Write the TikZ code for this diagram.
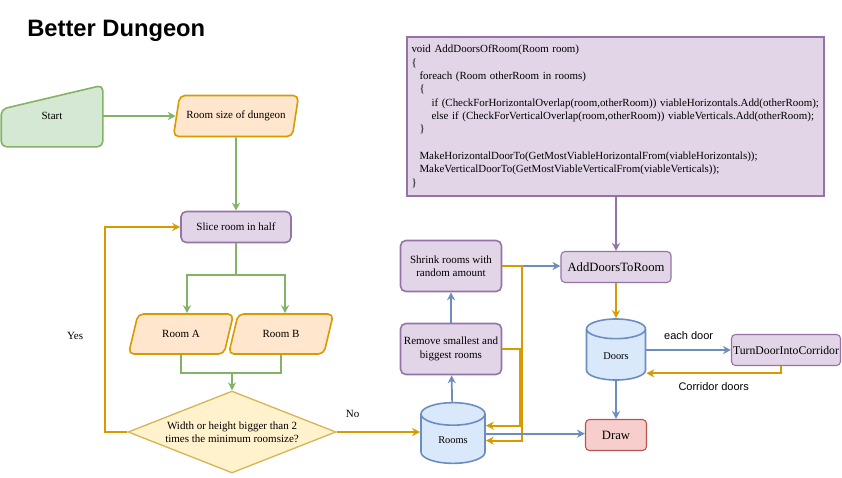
\documentclass[tikz,border=0pt]{standalone}
\usepackage{fontspec}
\setmainfont{Liberation Serif}
\setsansfont{Liberation Sans}
\usetikzlibrary{arrows.meta,positioning,calc,shapes.geometric,backgrounds}
\definecolor{grnfill}{HTML}{D5E8D4}\definecolor{grnline}{HTML}{82B366}
\definecolor{orgfill}{HTML}{FFE6CC}\definecolor{orgline}{HTML}{D79B00}
\definecolor{purfill}{HTML}{E1D5E7}\definecolor{purline}{HTML}{9673A6}
\definecolor{yelfill}{HTML}{FFF2CC}\definecolor{yelline}{HTML}{D6B656}
\definecolor{blufill}{HTML}{DAE8FC}\definecolor{bluline}{HTML}{6C8EBF}
\definecolor{redfill}{HTML}{F8CECC}\definecolor{redline}{HTML}{B85450}
\tikzset{base/.style={font=\fontsize{8.25}{10}\selectfont,align=center,inner sep=1pt,line width=1.2pt},
proc/.style={base,draw=purline,fill=purfill,rounded corners=4pt},
thinproc/.style={proc,line width=0.8pt,rounded corners=3pt,font=\fontsize{9.5}{11}\selectfont},
io/.style={base,trapezium,trapezium left angle=66,trapezium right angle=114,trapezium stretches=true,draw=orgline,fill=orgfill,rounded corners=4pt},
store/.style={base,cylinder,shape border rotate=90,aspect=0.7,anchor=shape center,draw=bluline,fill=blufill,font=\fontsize{7.8}{9}\selectfont},
decide/.style={base,diamond,aspect=2.5,inner sep=0pt,draw=yelline,fill=yelfill,line width=1pt},
manual/.style={draw=grnline,fill=grnfill,line width=1.2pt,rounded corners=4pt},
gflux/.style={-{Stealth[length=6pt,width=6pt]},draw=grnline,line width=1.3pt},
oflux/.style={-{Stealth[length=6pt,width=6pt]},draw=orgline,line width=1.3pt},
bflux/.style={-{Stealth[length=6pt,width=6pt]},draw=bluline,line width=1.3pt},
pflux/.style={-{Stealth[length=6pt,width=6pt]},draw=purline,line width=1.3pt},
note/.style={font=\fontsize{8.25}{10}\selectfont,inner sep=1pt},
snote/.style={font=\sffamily\fontsize{8.25}{10}\selectfont,inner sep=1pt}}
\begin{document}
\begin{tikzpicture}[x=0.75pt,y=-0.75pt]
\useasboundingbox (0,0) rectangle (842,478);
\node[font=\sffamily\bfseries\fontsize{17.8}{21}\selectfont,anchor=west,inner sep=0pt] (title) at (27,31) {Better Dungeon};
\node[base,minimum width=75pt,minimum height=45pt] (start) at (52,116) {Start};
\begin{scope}[on background layer]
\draw[manual] (start.south west) -- (start.south east) -- (start.north east) -- ($(start.north west)+(0,24)$) -- cycle;
\end{scope}
\node[io,minimum width=94.5pt,minimum height=30.75pt] (roomsize) at (236,116) {Room size of dungeon};
\node[proc,minimum width=82.5pt,minimum height=23.25pt] (slice) at (236,227) {Slice room in half};
\node[io,minimum width=78.75pt,minimum height=30pt] (rooma) at (181,334) {Room A};
\node[io,minimum width=78.75pt,minimum height=30pt] (roomb) at (281,334) {Room B};
\node[decide,minimum width=156pt,minimum height=61.5pt] (cond) at (232,432) {Width or height bigger than 2\\times the minimum roomsize?};
\node[store,minimum width=48pt,minimum height=45.5pt] (rooms) at (453,433) {Rooms};
\node[proc,minimum width=75.75pt,minimum height=38.25pt] (remove) at (451,349) {Remove smallest and\\biggest rooms};
\node[proc,minimum width=75.75pt,minimum height=38.25pt] (shrink) at (451,266) {Shrink rooms with\\random amount};
\node[thinproc,minimum width=82.5pt,minimum height=23.25pt] (adddoors) at (616,267) {AddDoorsToRoom};
\node[proc,line width=0.8pt,rounded corners=0pt,minimum width=312.75pt,minimum height=119.25pt,align=left,text width=306pt,font=\fontsize{8.2}{10}\selectfont] (code) at (615.5,116.5) {void AddDoorsOfRoom(Room room)\\
\{\\
\hspace*{6pt}foreach (Room otherRoom in rooms)\\
\hspace*{6pt}\{\\
\hspace*{15pt}if (CheckForHorizontalOverlap(room,otherRoom)) viableHorizontals.Add(otherRoom);\\
\hspace*{15pt}else if (CheckForVerticalOverlap(room,otherRoom)) viableVerticals.Add(otherRoom);\\
\hspace*{6pt}\}\\
\mbox{}\\
\hspace*{6pt}MakeHorizontalDoorTo(GetMostViableHorizontalFrom(viableHorizontals));\\
\hspace*{6pt}MakeVerticalDoorTo(GetMostViableVerticalFrom(viableVerticals));\\
\}};
\node[store,minimum width=44.25pt,minimum height=45.75pt] (doors) at (616,349.5) {Doors};
\node[thinproc,font=\fontsize{8.8}{10}\selectfont,minimum width=81.75pt,minimum height=23.25pt] (turn) at (786,350) {TurnDoorIntoCorridor};
\node[thinproc,draw=redline,fill=redfill,minimum width=45.75pt,minimum height=23.25pt] (drawstep) at (616,435) {Draw};
\draw[gflux] (start) -- (roomsize);
\draw[gflux] (roomsize) -- (slice);
\coordinate (split) at (236,275);
\coordinate (join) at (232,373);
\draw[gflux] (slice.south) -- (split) -| ($(rooma.north)+(6,0)$);
\draw[gflux] (split) -| ($(roomb.north)+(4,0)$);
\draw[gflux,-] (rooma.south) |- (join);
\draw[gflux,-] (roomb.south) |- (join);
\draw[gflux] (join) -- (cond.north);
\draw[oflux] (cond.west) -- ++(-22,0) |- node[note,pos=0.235,left=15pt]{Yes} (slice.west);
\draw[oflux] (cond.east) -- node[note,pos=0.19,above=9pt]{No} (cond.east -| rooms.west);
\draw[bflux] (rooms) -- (remove);
\draw[bflux] (remove) -- (shrink);
\draw[bflux] (shrink.east) -- (shrink.east -| adddoors.west);
\draw[oflux] (shrink.east) -- ++(20,0) |- (rooms.east);
\draw[oflux] (remove.east) -- ++(18,0) |- ($(rooms.east)+(0,-15)$);
\coordinate (roomsout) at ($(rooms.east)+(0,-7)$);
\draw[bflux] (roomsout) -- (roomsout -| drawstep.west);
\draw[pflux] (code.south -| adddoors.north) -- (adddoors.north);
\draw[oflux] (adddoors) -- (doors);
\draw[bflux] (doors) -- (drawstep);
\draw[bflux] (doors.east |- turn.west) -- node[snote,above=6pt]{each door} (turn.west);
\draw[oflux] ($(turn.south)+(-5,0)$) |- node[snote,pos=0.75,below=5pt]{Corridor doors} ($(doors.east)+(0,17)$);
\end{tikzpicture}
\end{document}
